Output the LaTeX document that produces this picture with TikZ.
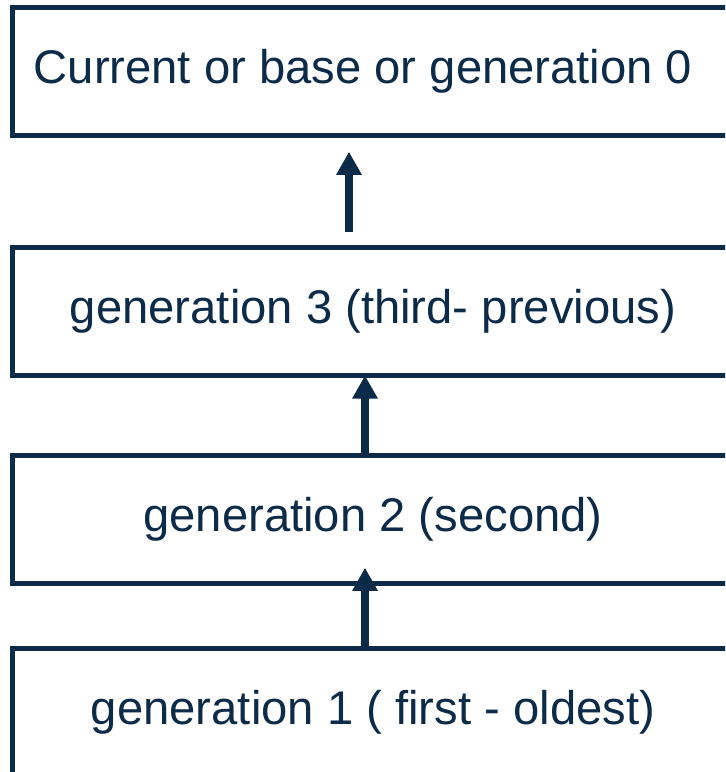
\documentclass[tikz,border=0pt]{standalone}
\usepackage{fontspec}
\setmainfont{Liberation Sans}
\usetikzlibrary{arrows.meta}
\definecolor{genblue}{rgb}{0.047,0.169,0.282}
\begin{document}
\begin{tikzpicture}
  [x=0.5pt,y=-0.5pt,
   every node/.style={draw=genblue,line width=2.5pt,outer sep=0pt,minimum width=360.5pt,minimum height=64pt,
     text=genblue,font=\fontsize{23.6}{28}\selectfont},
   link/.style={draw=genblue,line width=4pt,-{Triangle[width=12pt,length=11.5pt]}}]

  \clip (0,0) rectangle (725,772);

  \node (g0) at (373,71.75) {\hspace*{-10pt}Current or base or generation 0};
  \node (g3) at (373,311.5)  {generation 3 (third- previous)};
  \node (g2) at (373,519.75)  {generation 2 (second)};
  \node (g1) at (373,712) {generation 1 ( first - oldest)};

  \foreach \from/\to/\dx/\sa/\sb in {g3/g0/-12pt/8pt/8pt,g2/g3/-4pt/0pt/0pt,g1/g2/-4pt/0pt/-8pt}
    \draw[link,shorten <=\sa,shorten >=\sb] ([xshift=\dx]\from.north) -- ([xshift=\dx]\to.south);
\end{tikzpicture}
\end{document}
